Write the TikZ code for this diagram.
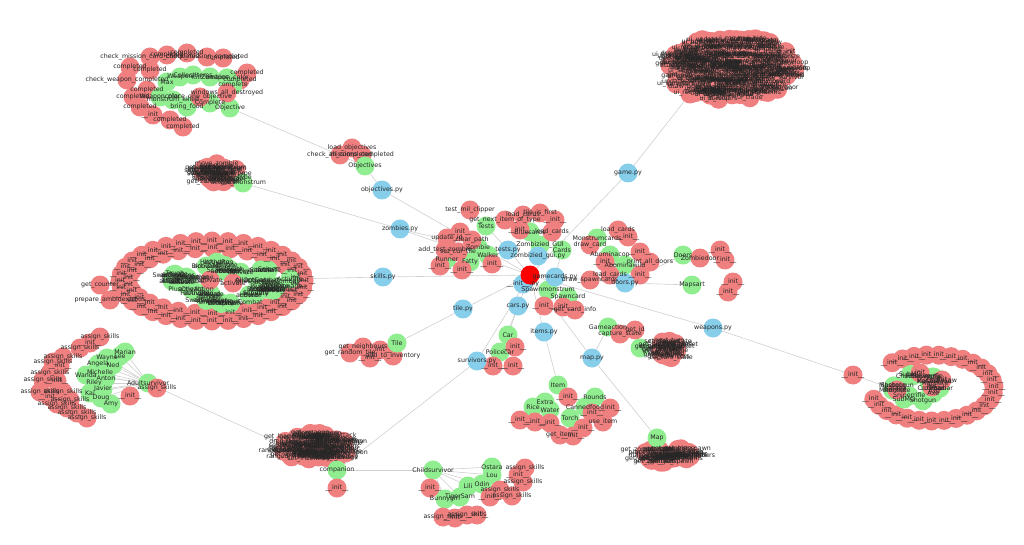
\documentclass[tikz,border=0pt]{standalone}
\usepackage{fontspec}
\setmainfont{DejaVu Sans}
\definecolor{fnred}{HTML}{F08080}
\definecolor{clsgreen}{HTML}{90EE90}
\definecolor{modblue}{HTML}{87CEEB}
\definecolor{edgegray}{HTML}{D0D0D0}
\pgfdeclarelayer{paper}
\pgfdeclarelayer{edges}
\pgfsetlayers{paper,edges,main}

% random heap of nodes inside an ellipse
\newcommand{\blob}[7]{%
  \foreach \i in {1,...,#6}{%
    \pgfmathsetmacro{\bang}{360*rnd}%
    \pgfmathsetmacro{\brad}{sqrt(rnd)}%
    \node[#7] (#1-\i) at ({#2+#4*\brad*cos(\bang)},{#3+#5*\brad*sin(\bang)}) {};}}
% nodes along an arc of an ellipse
\newcommand{\ring}[8]{%
  \foreach \i in {1,...,#6}{%
    \pgfmathsetmacro{\bang}{#7+(#8-#7)*(\i-1)/(#6-1)}%
    \node[fn] (#1-\i) at ({#2+#4*cos(\bang)},{#3+#5*sin(\bang)}) {};}}
% labels for a heap, the list is used again and again
\newcommand{\blobtext}[4]{%
  \foreach \rep in {1,...,#2}{%
    \foreach \lab [count=\j] in {#4}{%
      \pgfmathtruncatemacro{\m}{\j+(\rep-1)*#3}%
      \node[lbl] at (#1-\m) {\lab};}}}

\begin{document}
\begin{tikzpicture}[x=1pt,y=-1pt,
  nd/.style={circle,minimum size=19pt,inner sep=0pt},
  fn/.style={nd,fill=fnred},
  cls/.style={nd,fill=clsgreen},
  mod/.style={nd,fill=modblue},
  top/.style={nd,fill=red},
  lbl/.style={font=\fontsize{6.3}{6.3}\selectfont,text=black!85,inner sep=0pt},
  link/.style={draw=edgegray,line width=0.6pt}]
\useasboundingbox (0,0) rectangle (1024,545);
\begin{pgfonlayer}{paper}
\fill[white] (0,0) rectangle (1024,545);
\end{pgfonlayer}
\pgfmathsetseed{11}

% ---------- circles ----------
% game.py user interface
\blob{ui}{731}{68}{64}{32}{270}{fn}
\node[fn] (uihub) at (690,94) {};
% survivor methods
\blob{sv}{316}{447}{35}{14}{80}{fn}
\node[cls] (survcls) at (337,470) {};
\node[fn] (svinit) at (337,488) {};
% map methods
\blob{mp}{667}{455}{24}{8}{42}{fn}
\node[cls] (mapcls) at (657,438) {};
% game actions
\node[cls] (gamea) at (608,327) {};
\node[fn] (getid) at (635,330) {};
\node[fn] (getid2) at (620,334) {};
\node[cls] (gccls) at (640,348) {};
\blob{gc}{668}{350}{12}{9}{28}{fn}
% zombie types
\blob{zl}{220}{173}{20}{10}{36}{fn}
\node[cls] (zleft) at (243,183) {};

% skills
\ring{sk}{212}{281}{92}{40}{36}{0}{350}
\ring{sq}{212}{281}{84}{33}{30}{5}{355}
\node[fn] (skl1) at (100,285) {};
\node[fn] (skl2) at (110,300) {};
\foreach \i in {1,...,34}{%
  \pgfmathsetmacro{\bang}{360*rnd}
  \pgfmathsetmacro{\brad}{0.55+0.45*rnd}
  \node[cls] (skg-\i) at ({223+58*\brad*cos(\bang)},{283+21*\brad*sin(\bang)}) {};}
\node[fn] (skin1) at (210,280) {};
\node[fn] (skin2) at (233,283) {};
\node[cls] (skhub) at (290,279) {};

% weapons
\ring{wr}{932}{388}{62}{33}{26}{-130}{160}
\foreach \i in {1,...,22}{%
  \pgfmathsetmacro{\bang}{360*rnd}
  \pgfmathsetmacro{\brad}{0.5+0.5*rnd}
  \node[cls] (wg-\i) at ({915+32*\brad*cos(\bang)},{386+16*\brad*sin(\bang)}) {};}
\foreach \n/\x/\y in {wi1/920/373,wi2/932/387,wi3/897/390,wi4/942/380}
  \node[fn] (\n) at (\x,\y) {};
\node[fn] (wlone) at (853,375) {};

% objectives
\foreach \n/\x/\y in {oa1/150/57,oa2/167/55,oa3/187/53,oa4/207/57,oa5/223/58,oa6/130/67,
    oa7/127/80,oa8/133/97,oa9/140/107,oa10/153/115,oa11/170/120,oa12/183/127,oa13/247/73,
    oa14/240/80,oa15/150/70,oa16/147/90}
  \node[fn] (\n) at (\x,\y) {};
\foreach \n/\x/\y in {og1/167/82,og2/180/77,og3/193/75,og4/210/77,og5/227/78,og6/233/85,
    og7/160/97,og8/173/100,og9/187/107,og10/210/103,objective/230/108}
  \node[cls] (\n) at (\x,\y) {};
\node[fn] (oa17) at (200,97) {};
\node[fn] (oa18) at (227,93) {};
\foreach \n/\x/\y in {oc1/340/155,oc2/352/148,oc3/362/155}
  \node[fn] (\n) at (\x,\y) {};
\node[cls] (objcls) at (365,166) {};

% adult survivors
\foreach \n/\x/\y in {as1/100/337,as2/90/343,as3/80/348,as4/63/357,as5/53/362,as6/60/366,
    as7/50/373,as8/43/380,as9/57/381,as10/40/392,as11/63/392,as12/50/397,as13/70/400,
    as14/57/404,as15/67/408,as16/77/413,as17/87/418}
  \node[fn] (\n) at (\x,\y) {};
\foreach \n/\x/\y in {marian/125/352,lee/120/356,wayne/107/358,angela/98/364,ned/113/365,
    michelle/100/372,anton/106/378,wanda/86/375,riley/94/383,javier/103/389,kai/90/393,
    doug/101/398,amy/111/404}
  \node[cls] (\n) at (\x,\y) {};
\node[fn] (adinit) at (130,396) {};
\node[cls] (adult) at (148,383) {};
\node[fn] (adsk) at (157,388) {};

% child survivors
\foreach \n/\x/\y in {child/433/470,ostara/492/467,lou/492/475,lili/468/486,odin/482/484,
    tiger/460/497,bunny/445/499}
  \node[cls] (\n) at (\x,\y) {};
\foreach \n/\x/\y in {ch1/525/468,ch10/518/475,ch2/523/482,ch3/500/490,ch4/512/496,ch5/490/497,
    chinit/430/488,ch6/443/517,ch7/455/518,ch8/467/515,ch9/477/515}
  \node[fn] (\n) at (\x,\y) {};

% items
\foreach \n/\x/\y in {rounds/595/397,extra/545/402,rice/533/407,water/550/410,
    canned/585/407,torch/570/418}
  \node[cls] (\n) at (\x,\y) {};
\foreach \n/\x/\y in {it2/610/408,it3/592/413,it4/603/422,it5/520/420,it6/535/422,
    it7/550/423,it8/560/435,it9/573/436,it10/583/428}
  \node[fn] (\n) at (\x,\y) {};
\node[cls] (item) at (558,385) {};
\node[fn] (it1) at (568,397) {};

% tiles and cars
\foreach \n/\x/\y in {tl1/350/353,tl2/363/347,tl3/380/350,tl4/393/356,tl5/370/358}
  \node[fn] (\n) at (\x,\y) {};
\node[cls] (tilecls) at (397,343) {};
\node[cls] (car) at (508,335) {};
\node[cls] (police) at (500,352) {};
\foreach \n/\x/\y in {cr1/515/347,cr2/493/366,cr3/513/366}
  \node[fn] (\n) at (\x,\y) {};

% centre: zombies, tests, cards
\foreach \n/\x/\y in {zombcls/478/247,walker/488/255,runner/447/259,fatty/470/262,
    testcls/486/226,bluec/530/232,guicls/540/245,cards/562/250,monst/597/238,
    abom/610/255,abom2/625/265,doors/683/255,mapsart/692/285,spawnm/548/290,spawnc/568/297}
  \node[cls] (\n) at (\x,\y) {};
\foreach \n/\x/\y in {tmc/470/210,tc1/505/220,tc2/523/215,tc3/540/213,tc4/555/220,
    tc5/520/230,tc6/552/232,zr1/447/238,zr2/460/232,zr3/472/240,zr4/445/250,zr5/458/252,
    zi1/440/266,zi2/462/270,zi3/492/264,rc1/618/230,rc2/628/237,rc3/590/245,rc4/605/262,
    rc5/640/252,rc6/650/262,rc7/640/275,rc8/610/275,rc9/590/280,rc10/700/258,rc11/720/250,
    rc12/725/260,rc13/733/282,rc14/728/292,sp1/544/306,sp2/563/307,sp3/575/310}
  \node[fn] (\n) at (\x,\y) {};

% modules
\foreach \n/\x/\y in {objpy/382/190,gamepy/628/173,zombpy/400/229,skillpy/383/277,
    testpy/508/250,guipy/538/256,cardpy/555/277,initpy/523/284,tilepy/463/309,
    carpy/518/306,itempy/544/332,survpy/477/361,mappy/592/358,weappy/713/328,doorpy/625/283}
  \node[mod] (\n) at (\x,\y) {};
\node[top] (root) at (530,275) {};

% ---------- labels ----------
\blobtext{ui}{9}{30}{ui\_update,ui\_attack,attack,stack,ui\_loop,gameloop,items,ui\_items,
  survivors,ui\_survivors,get\_state,draw\_board,ui\_draw,ui\_init,ui\_move,ui\_search,
  ui\_open\_door,ui\_trade,ui\_reorganize,ui\_make\_noise,ui\_end\_turn,update\_survivor,
  get\_zombies,ui\_spawn,draw\_tiles,ui\_select,ui\_button,ui\_menu,ui\_show,ui\_hide}
\blobtext{sv}{4}{20}{get\_inventory,equip\_weapon,get\_loaded\_weapons,drop\_item,add\_item,
  can\_weapon\_attack,select\_weapon,ranged\_weapon,take\_damage,get\_damage,companion,
  reload,get\_items,use\_item,get\_weapon,hand\_weapon,set\_inventory,remove\_item,
  get\_melee,restore}
\blobtext{mp}{3}{14}{get\_tile,make\_spawn,get\_zombie\_spawn,get\_array,get\_path,get\_tiles,
  get\_neighbours,get\_map,place\_tiles,get\_doors,get\_exits,get\_rooms,base\_map,get\_start}
\blobtext{gc}{2}{14}{capture\_state,get\_tile,get\_survivors,calc\_noise,get\_survivor\_onset,
  update\_tile,get\_players,set\_players,next\_turn,check\_end,get\_zombies,reset,draw,move}
\blobtext{zl}{3}{12}{zombie\_get\_type,get\_zombie\_type,select\_tile,sort\_zombies,
  get\_monstrum,move\_zombie,get\_target,attack,get\_noise,activate,spawn,split}
\blobtext{skg}{2}{17}{Ambidextrous,AllOutCombat,OneDamageCombat,HitAndRun,PlusOneAction,
  PlusOneDamage,Lucky,Sniper,Slippery,Tough,Medic,Hoard,Search,Bloodlust,Lockpick,
  Scavenger,Swordmaster}
\blobtext{skg}{2}{17}{activate,activate,activate,activate,activate,activate,activate,
  activate,activate,activate,activate,activate,activate,activate,activate,activate,activate}
\blobtext{wg}{2}{11}{Machete,Crowbar,Axe,Pistol,Chainsaw,Katana,Shotgun,SubMG,Rifle,
  Mashotgun,Sniperrifle}
\foreach \i in {1,...,36} \node[lbl] at (sk-\i) {\_\_init\_\_};
\foreach \i in {1,...,30} \node[lbl] at (sq-\i) {\_\_init\_\_};
\foreach \i in {1,...,26} \node[lbl] at (wr-\i) {\_\_init\_\_};
\foreach \n/\t in {gamea/Gameaction,getid/get\_id,getid2/capture\_state,mapcls/Map,
    survcls/companion,svinit/\_\_init\_\_,zleft/get\_monstrum,skl1/get\_counter,
    skl2/prepare\_ambidextrous,skin1/activate,skin2/activate,skhub/Activate,
    wi1/\_\_init\_\_,wi2/\_\_init\_\_,wi3/Machete,wi4/\_\_init\_\_,wlone/\_\_init\_\_,
    oa1/check\_mission\_card\_completed,oa2/completed,oa3/completed,
    oa4/check\_mission\_completed,oa5/completed,oa6/completed,oa7/check\_weapon\_completed,
    oa8/completed,oa9/completed,oa10/\_\_init\_\_,oa11/completed,oa12/completed,
    oa13/completed,oa14/completed,oa15/completed,oa16/completed,
    oa17/place\_one\_objective,oa18/windows\_all\_destroyed,
    og1/Max,og2/Weapon,og3/CollectItems,og4/KillZombies,og5/weapon\_color,og6/complete,
    og7/Weaponcolor,og8/monstrum\_killed,og9/bring\_food,og10/Complete,objective/Objective,
    oc1/check\_all\_completed,oc2/load\_objectives,oc3/missions\_completed,objcls/Objectives}
  \node[lbl] at (\n) {\t};
\foreach \n in {as1,as3,as4,as5,as7,as8,as10,as11,as13,as14,as15,as16,as17,adsk}
  \node[lbl] at (\n) {assign\_skills};
\foreach \n in {as2,as6,as9,as12,adinit}
  \node[lbl] at (\n) {\_\_init\_\_};
\foreach \n/\t in {marian/Marian,lee/Lee,wayne/Wayne,angela/Angela,ned/Ned,michelle/Michelle,
    anton/Anton,wanda/Wanda,riley/Riley,javier/Javier,kai/Kai,doug/Doug,amy/Amy,
    adult/Adultsurvivor,child/Childsurvivor,ostara/Ostara,lou/Lou,lili/Lili,odin/Odin,
    tiger/TigerSam,bunny/Bunnygirl,ch1/assign\_skills,ch10/\_\_init\_\_,ch2/assign\_skills,
    ch3/assign\_skills,ch4/assign\_skills,ch5/\_\_init\_\_,chinit/\_\_init\_\_,
    ch6/assign\_skills,ch7/\_\_init\_\_,ch8/assign\_skills,ch9/\_\_init\_\_,
    item/Item,rounds/Rounds,extra/Extra,rice/Rice,water/Water,canned/Cannedfood,
    torch/Torch,it1/\_\_init\_\_,it2/\_\_init\_\_,it3/\_\_init\_\_,it4/use\_item,
    it5/\_\_init\_\_,it6/\_\_init\_\_,it7/\_\_init\_\_,it8/get\_item,it9/\_\_init\_\_,
    it10/\_\_init\_\_,tl1/get\_random\_tile,tl2/get\_neighbours,tl3/\_\_init\_\_,
    tl4/add\_to\_inventory,tl5/\_\_init\_\_,tilecls/Tile,car/Car,police/Policecar,
    cr1/\_\_init\_\_,cr2/\_\_init\_\_,cr3/\_\_init\_\_}
  \node[lbl] at (\n) {\t};
\foreach \n/\t in {zombcls/Zombie,walker/Walker,runner/Runner,fatty/Fatty,testcls/Tests,
    bluec/Bluecards,guicls/Zombizied\_GUI,cards/Cards,monst/Monstrumcards,abom/Abominacop,
    abom2/Abominawild,doors/Doors,mapsart/Mapsart,spawnm/Spawnmonstrum,spawnc/Spawncard,
    tmc/test\_mil\_clipper,tc1/get\_next\_item\_of\_type,tc2/load\_cards,tc3/tile\_is\_first,
    tc4/\_\_init\_\_,tc5/\_\_init\_\_,tc6/load\_cards,zr1/update\_id,zr2/\_\_init\_\_,
    zr3/clear\_path,zr4/add\_test\_zombie,zr5/set\_cur\_tile,zi1/\_\_init\_\_,zi2/\_\_init\_\_,
    zi3/\_\_init\_\_,rc1/load\_cards,rc2/\_\_init\_\_,rc3/draw\_card,rc4/\_\_init\_\_,
    rc5/\_\_init\_\_,rc6/print\_all\_doors,rc7/\_\_init\_\_,rc8/load\_cards,
    rc9/draw\_spawncards,rc10/Zombiedoor,rc11/\_\_init\_\_,rc12/\_\_init\_\_,rc13/\_\_init\_\_,
    rc14/\_\_init\_\_,sp1/\_\_init\_\_,sp2/\_\_init\_\_,sp3/get\_card\_info,
    objpy/objectives.py,gamepy/game.py,zombpy/zombies.py,skillpy/skills.py,testpy/tests.py,
    guipy/zombizied\_gui.py,cardpy/gamecards.py,initpy/\_\_init\_\_.py,tilepy/tile.py,
    carpy/cars.py,itempy/items.py,survpy/survivors.py,mappy/map.py,weappy/weapons.py,
    doorpy/doors.py}
  \node[lbl] at (\n) {\t};

% ---------- edges ----------
\begin{pgfonlayer}{edges}
\foreach \n in {objpy,gamepy,zombpy,skillpy,testpy,guipy,cardpy,initpy,tilepy,carpy,
    itempy,survpy,mappy,weappy,doorpy}
  \draw[link] (root) -- (\n);
\foreach \a/\b in {objpy/objcls,objcls/objective,gamepy/uihub,zombpy/zleft,zombpy/zombcls,
    skillpy/skhub,testpy/testcls,tilepy/tilecls,carpy/car,carpy/police,itempy/item,
    survpy/survcls,survcls/adult,survcls/child,mappy/mapcls,mappy/gamea,weappy/wlone,
    wlone/wi3,guipy/guicls,cardpy/cards,doorpy/doors,doorpy/mapsart,cardpy/spawnm}
  \draw[link] (\a) -- (\b);
\foreach \n in {marian,lee,wayne,angela,ned,michelle,anton,wanda,riley,javier,kai,doug,amy}
  \draw[link] (adult) -- (\n);
\foreach \n in {ostara,lou,lili,odin,tiger,bunny}
  \draw[link] (child) -- (\n);
\end{pgfonlayer}
\end{tikzpicture}
\end{document}
